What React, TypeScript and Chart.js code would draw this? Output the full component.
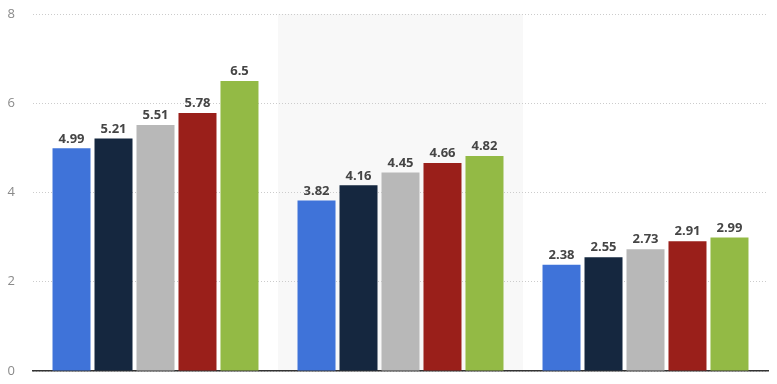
import React, { useEffect, useRef } from "react";
import { Chart, registerables } from "chart.js";

Chart.register(...registerables);

const categories = ["Group 1", "Group 2", "Group 3"];
const seriesNames = ["Series 1", "Series 2", "Series 3", "Series 4", "Series 5"];
const seriesColors = ["#3f73d9", "#15273f", "#b8b8b8", "#9a1f1a", "#93ba45"];
const seriesValues: number[][] = [
  [4.99, 3.82, 2.38],
  [5.21, 4.16, 2.55],
  [5.51, 4.45, 2.73],
  [5.78, 4.66, 2.91],
  [6.5, 4.82, 2.99],
];
const yTicks = [0, 2, 4, 6, 8];
const highlightedCategory = 1;

const bandPlugin = {
  id: "band",
  beforeDraw(chart: any) {
    const { ctx, chartArea, scales } = chart;
    const x = scales.x;
    const n = categories.length;
    const w = (chartArea.right - chartArea.left) / n;
    const c = x.getPixelForValue(highlightedCategory);
    ctx.save();
    ctx.fillStyle = "#f8f8f8";
    ctx.fillRect(c - w / 2, chartArea.top, w, chartArea.bottom - chartArea.top);
    ctx.restore();
  },
};

const labelPlugin = {
  id: "valueLabels",
  afterDatasetsDraw(chart: any) {
    const { ctx } = chart;
    ctx.save();
    ctx.font = "bold 13px 'Open Sans', sans-serif";
    ctx.fillStyle = "#454545";
    ctx.textAlign = "center";
    ctx.textBaseline = "bottom";
    chart.data.datasets.forEach((ds: any, i: number) => {
      const meta = chart.getDatasetMeta(i);
      meta.data.forEach((bar: any, j: number) => {
        ctx.fillText(String(ds.data[j]), bar.x, bar.y - 3);
      });
    });
    ctx.restore();
  },
};

export default function App() {
  const ref = useRef<HTMLCanvasElement>(null);
  useEffect(() => {
    if (!ref.current) return;
    const chart = new Chart(ref.current, {
      type: "bar",
      data: {
        labels: categories,
        datasets: seriesNames.map((name, i) => ({
          label: name,
          data: seriesValues[i],
          backgroundColor: seriesColors[i],
          categoryPercentage: 0.857,
          barPercentage: 0.905,
        })),
      },
      options: {
        animation: false,
        responsive: false,
        maintainAspectRatio: false,
        layout: { padding: { top: 14, right: 9, bottom: 13, left: 0 } },
        plugins: {
          legend: { display: false },
          tooltip: { enabled: false },
        },
        scales: {
          x: {
            grid: { display: false },
            ticks: { display: false },
            border: { display: true, color: "#333333", width: 1.5 },
            afterFit: (s: any) => {
              s.height = 0;
              s.paddingLeft = 0;
              s.paddingRight = 0;
            },
          },
          y: {
            min: 0,
            max: 8,
            afterBuildTicks: (s: any) => {
              s.ticks = yTicks.map((v) => ({ value: v }));
            },
            afterFit: (s: any) => {
              s.width = 33;
              s.paddingTop = 0;
              s.paddingBottom = 0;
            },
            grid: { color: "#cccccc", drawTicks: false, lineWidth: 1 },
            border: { display: false, dash: [1, 2] },
            ticks: {
              padding: 18,
              color: "#8a8a8a",
              font: { family: "'Open Sans', sans-serif", size: 13 },
            },
          },
        },
      },
      plugins: [bandPlugin, labelPlugin],
    });
    return () => chart.destroy();
  }, []);
  return (
    <div style={{ position: "fixed", left: 0, top: 0, width: 777, height: 384, background: "#fff" }}>
      <canvas ref={ref} width={777} height={384} style={{ width: 777, height: 384 }} />
    </div>
  );
}
